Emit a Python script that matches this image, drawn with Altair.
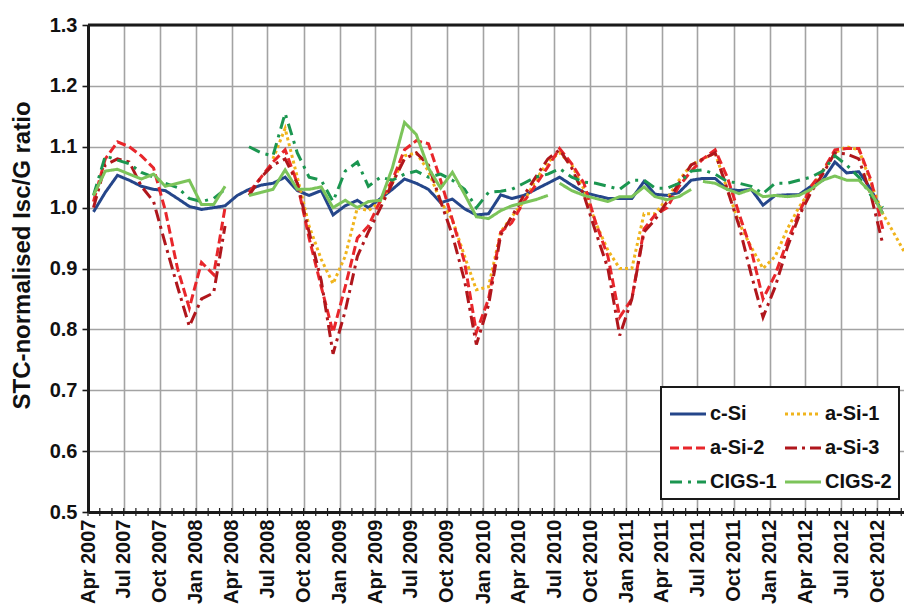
import altair as alt
import pandas as pd

# Monthly STC-normalised Isc/G ratios, one value per month from Apr 2007 to Dec 2012
# (values are plotted mid-month; None = no measurement that month)
first_month = "2007-04"
n_months = 69

c_si = [0.993, 1.025, 1.053, 1.045, 1.035, 1.030, 1.028, 1.015, 1.002, 0.997, 1.000, 1.003,
        1.020, 1.030, 1.037, 1.040, 1.050, 1.028, 1.020, 1.028, 0.988, 1.003, 1.012, 1.000,
        1.015, 1.030, 1.047, 1.040, 1.030, 1.008, 1.014, 0.998, 0.988, 0.990, 1.021, 1.015,
        1.020, 1.030, 1.040, 1.050, 1.037, 1.025, 1.020, 1.015, 1.015, 1.015, 1.043, 1.022,
        1.020, 1.025, 1.045, 1.048, 1.048, 1.030, 1.028, 1.030, 1.004, 1.020, 1.021, 1.021,
        1.035, 1.045, 1.075, 1.057, 1.059, 1.030, 0.990, None, None]

a_si_1 = [None, None, None, None, None, None, None, None, None, None, None, None,
          None, None, None, 1.080, 1.130, 1.050, 0.970, 0.915, 0.875, 0.920, 1.000, 0.995,
          1.010, 1.040, 1.085, 1.090, 1.060, 1.010, 0.980, 0.920, 0.865, 0.870, 0.960, 0.985,
          1.010, 1.045, 1.075, 1.090, 1.070, 1.030, 0.975, 0.930, 0.900, 0.900, 0.990, 0.990,
          1.015, 1.045, 1.070, 1.080, 1.090, 1.030, 0.975, 0.935, 0.900, 0.920, 0.965, 1.000,
          1.030, 1.060, 1.090, 1.100, 1.095, 1.040, 0.990, 0.955, 0.920]

a_si_2 = [1.010, 1.080, 1.108, 1.100, 1.085, 1.065, 0.995, 0.900, 0.835, 0.910, 0.890, 1.000,
          None, 1.025, 1.050, 1.075, 1.095, 1.040, 0.950, 0.870, 0.795, 0.870, 0.950, 0.970,
          1.012, 1.045, 1.095, 1.110, 1.105, 1.045, 0.980, 0.910, 0.795, 0.850, 0.960, 0.975,
          1.010, 1.037, 1.067, 1.097, 1.072, 1.040, 0.975, 0.920, 0.820, 0.850, 0.965, 0.988,
          1.000, 1.035, 1.060, 1.080, 1.095, 1.050, 0.990, 0.930, 0.850, 0.890, 0.945, 0.990,
          1.035, 1.060, 1.095, 1.097, 1.097, 1.045, 0.965, None, None]

a_si_3 = [1.000, 1.070, 1.080, 1.075, 1.035, 1.010, 0.940, 0.870, 0.805, 0.850, 0.860, 0.970,
          None, 1.020, 1.050, 1.070, 1.080, 1.040, 0.960, 0.880, 0.760, 0.830, 0.920, 0.960,
          1.000, 1.040, 1.080, 1.090, 1.070, 1.010, 0.955, 0.880, 0.775, 0.840, 0.955, 0.985,
          1.020, 1.050, 1.080, 1.095, 1.065, 1.020, 0.960, 0.900, 0.790, 0.850, 0.960, 0.980,
          1.010, 1.040, 1.070, 1.080, 1.090, 1.030, 0.970, 0.890, 0.820, 0.870, 0.935, 0.985,
          1.025, 1.055, 1.090, 1.088, 1.080, 1.020, 0.940, None, None]

cigs_1 = [1.020, 1.085, 1.078, 1.072, 1.058, 1.050, 1.040, 1.033, 1.015, 1.010, 1.015, 1.030,
          None, 1.100, 1.090, 1.085, 1.155, 1.090, 1.050, 1.045, 1.010, 1.060, 1.075, 1.035,
          1.050, 1.045, 1.055, 1.060, 1.050, 1.055, 1.045, 1.030, 1.000, 1.025, 1.027, 1.030,
          1.040, 1.050, 1.055, 1.064, 1.050, 1.042, 1.040, 1.035, 1.030, 1.045, 1.045, 1.032,
          1.032, 1.040, 1.060, 1.062, 1.055, 1.043, 1.040, 1.035, 1.023, 1.040, 1.040, 1.045,
          1.050, 1.060, 1.085, 1.070, 1.050, 1.020, 1.000, None, None]

cigs_2 = [1.020, 1.060, 1.063, 1.055, 1.047, 1.055, 1.035, 1.040, 1.045, 1.005, 1.005, 1.035,
          None, 1.020, 1.025, 1.030, 1.062, 1.030, 1.030, 1.034, 1.000, 1.012, 1.000, 1.010,
          1.012, 1.065, 1.140, 1.120, 1.065, 1.032, 1.058, 1.022, 0.985, 0.982, 0.995, 1.003,
          1.008, 1.013, 1.020, 1.040, 1.028, 1.020, 1.015, 1.010, 1.018, 1.018, 1.034, 1.018,
          1.013, 1.018, 1.030, 1.043, 1.040, 1.030, 1.023, 1.030, 1.018, 1.020, 1.018, 1.020,
          1.030, 1.045, 1.052, 1.045, 1.045, 1.025, 0.990, None, None]

# CIGS-2 logging restarts (new run, not joined to the previous month)
cigs_2_new_runs = ["2010-07", "2011-07"]

series_names = ["c-Si", "a-Si-1", "a-Si-2", "a-Si-3", "CIGS-1", "CIGS-2"]
series_values = [c_si, a_si_1, a_si_2, a_si_3, cigs_1, cigs_2]
series_colors = ["#25468a", "#f0b41c", "#e8262b", "#b0161c", "#1b9650", "#7cc45a"]
series_dashes = [[1, 0], [3, 3], [9, 4], [12, 5, 3, 5], [12, 6, 3, 6], [1, 0]]

y_ticks = [0.5, 0.6, 0.7, 0.8, 0.9, 1.0, 1.1, 1.2, 1.3]
quarter_labels = [(2007, 4), (2007, 7), (2007, 10), (2008, 1), (2008, 4), (2008, 7), (2008, 10),
                  (2009, 1), (2009, 4), (2009, 7), (2009, 10), (2010, 1), (2010, 4), (2010, 7),
                  (2010, 10), (2011, 1), (2011, 4), (2011, 7), (2011, 10), (2012, 1), (2012, 4),
                  (2012, 7), (2012, 10)]

# ---- long table ----
month_starts = pd.date_range(first_month + "-01", periods=n_months, freq="MS")
rows = []
for name, vals in zip(series_names, series_values):
    run = 0
    for m, v in zip(month_starts, vals):
        key = m.strftime("%Y-%m")
        if v is None:
            run += 1
            continue
        if name == "CIGS-2" and key in cigs_2_new_runs:
            run += 1
        rows.append({
            "date": (m + pd.Timedelta(days=14)).strftime("%Y-%m-%d"),
            "value": v,
            "series": name,
            "run": f"{name}-{run}",
        })
df = pd.DataFrame(rows)
ticks_df = pd.DataFrame({"tick": [m.strftime("%Y-%m-%d") for m in month_starts]})

W, H = 816, 487
FONT = "Liberation Sans"

x_scale = alt.Scale(type="utc", domain=[alt.DateTime(year=2007, month=4, date=1, utc=True),
                                        alt.DateTime(year=2012, month=12, date=8, utc=True)])
y_scale = alt.Scale(domain=[0.5, 1.3], nice=False, zero=False)

x_axis = alt.Axis(
    values=[alt.DateTime(year=y, month=m, date=1, utc=True) for y, m in quarter_labels],
    format="%b %Y", title=None, labelAngle=-90, labelAlign="right", labelBaseline="middle",
    labelPadding=7, labelFontSize=20, labelFont=FONT, labelFontWeight="bold", labelColor="#111",
    ticks=False, grid=True, gridColor="#a3a3a3", gridWidth=1.6,
    domain=True, domainColor="#1a1a1a", domainWidth=3, labelOverlap=False, labelFlush=False,
)
y_axis = alt.Axis(
    values=y_ticks, format=".1f", title="STC-normalised Isc/G ratio",
    titleFont=FONT, titleFontSize=24, titleFontWeight="bold", titleColor="#111",
    titleAngle=270, titleX=-66, titleY=230, titleAlign="center", titleBaseline="middle",
    labelFontSize=20, labelFont=FONT, labelFontWeight="bold", labelColor="#111", labelPadding=5,
    tickSize=6, tickWidth=1.6, tickColor="#1a1a1a",
    grid=True, gridColor="#a3a3a3", gridWidth=1.6,
    domain=True, domainColor="#1a1a1a", domainWidth=3,
)

legend = alt.Legend(
    title=None, orient="none", legendX=573, legendY=362, columns=2, direction="horizontal",
    symbolType="stroke", symbolSize=1296, symbolStrokeWidth=3.2,
    labelFontSize=20, labelFont=FONT, labelFontWeight="bold", labelColor="#111",
    labelOffset=2, rowPadding=4, columnPadding=1, padding=7,
    strokeColor="#1a1a1a", fillColor="white",
)

lines = alt.Chart(df).mark_line(strokeWidth=3, clip=True).encode(
    x=alt.X("date:T", scale=x_scale, axis=x_axis),
    y=alt.Y("value:Q", scale=y_scale, axis=y_axis),
    color=alt.Color("series:N", scale=alt.Scale(domain=series_names, range=series_colors), legend=legend),
    strokeDash=alt.StrokeDash("series:N", scale=alt.Scale(domain=series_names, range=series_dashes), legend=legend),
    detail="run:N",
)

# small monthly tick marks crossing the date axis
minor_ticks = alt.Chart(ticks_df).mark_rule(color="#1a1a1a", strokeWidth=1.2).encode(
    x=alt.X("tick:T", scale=x_scale, axis=x_axis),
    y=alt.value(H - 4),
    y2=alt.value(H + 4),
)

# frame line along the top of the plot area
top_frame = alt.Chart(alt.Data(values=[{}])).mark_rule(color="#1a1a1a", strokeWidth=3).encode(
    x=alt.value(0), x2=alt.value(W), y=alt.value(0),
)

chart = alt.layer(lines, minor_ticks, top_frame).properties(
    width=W, height=H,
    autosize=alt.AutoSizeParams(type="none"),
    padding={"left": 88, "top": 25, "right": 0, "bottom": 98},
    background="white",
).configure_view(stroke=None).configure_legend(strokeWidth=2)

chart.save("out.html", embed_options={"renderer": "svg", "actions": False})
